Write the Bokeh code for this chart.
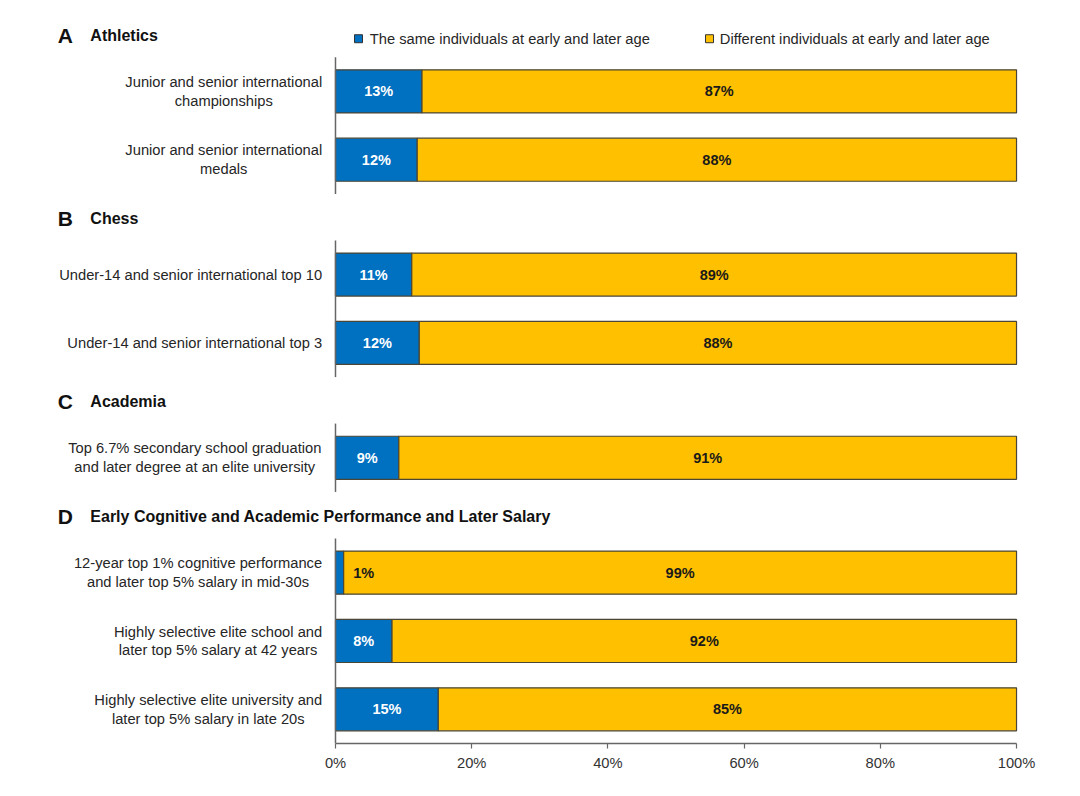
from bokeh.plotting import figure
from bokeh.models import Range1d, FixedTicker, ColumnDataSource
from bokeh.core.properties import value
from bokeh.embed import file_html
from bokeh.resources import INLINE

# ---------------- data ----------------
section_letters = ["A", "B", "C", "D"]
section_titles = ["Athletics", "Chess", "Academia",
                  "Early Cognitive and Academic Performance and Later Salary"]
section_sizes = [2, 2, 1, 3]
categories = [
    "Junior and senior international\nchampionships",
    "Junior and senior international\nmedals",
    "Under-14 and senior international top 10",
    "Under-14 and senior international top 3",
    "Top 6.7% secondary school graduation\nand later degree at an elite university",
    "12-year top 1% cognitive performance\nand later top 5% salary in mid-30s",
    "Highly selective elite school and\nlater top 5% salary at 42 years",
    "Highly selective elite university and\nlater top 5% salary in late 20s",
]
same_pct = [12.7, 12.0, 11.2, 12.3, 9.3, 1.2, 8.3, 15.1]
diff_pct = [87.3, 88.0, 88.8, 87.7, 90.7, 98.8, 91.7, 84.9]
same_labels = ["13%", "12%", "11%", "12%", "9%", "1%", "8%", "15%"]
diff_labels = ["87%", "88%", "89%", "88%", "91%", "99%", "92%", "85%"]
series_names = ["The same individuals at early and later age",
                "Different individuals at early and later age"]
tick_values = [0, 20, 40, 60, 80, 100]
tick_labels = ["0%", "20%", "40%", "60%", "80%", "100%"]

# ---------------- style ----------------
BLUE = "#0070C0"
YELLOW = "#FFC000"
OUTLINE = "#4a4535"
AXIS = "#666666"
FONT = "Liberation Sans"
FS_PX = 14.7
FS = f"{FS_PX}px"

# ---------------- geometry ----------------
W, H = 1064, 780
MB_L, MB_R, MB_T, MB_B = 13, 5, 18, 37
X0, X1 = -47.28, 106.31
PX_PER_UNIT = (W - MB_L - MB_R) / (X1 - X0)
LABEL_RIGHT = -1.95  # right edge of category-label block (data units)

# Arial / Liberation Sans advance widths (1/1000 em) for label centring
_AW = {" ": 278, "%": 889, "-": 333, ".": 278, "A": 667, "B": 667, "C": 722,
       "D": 722, "E": 667, "H": 722, "J": 500, "T": 611, "U": 722,
       "a": 556, "b": 556, "c": 500, "d": 556, "e": 556, "f": 278, "g": 556,
       "h": 556, "i": 222, "j": 222, "k": 500, "l": 222, "m": 833, "n": 556,
       "o": 556, "p": 556, "q": 556, "r": 333, "s": 500, "t": 278, "u": 556,
       "v": 500, "w": 722, "x": 500, "y": 500, "z": 500}


def text_width_units(s):
    w = max(sum(_AW.get(c, 556 if c.isdigit() else 556) for c in line)
            for line in s.split("\n"))
    return w / 1000 * FS_PX / PX_PER_UNIT


cat_x = [LABEL_RIGHT - text_width_units(c) / 2 for c in categories]

# ---------------- layout (slot units) ----------------
GAP = 0.68
starts, ends, centers = [], [], []
pos = 0.0
for n in section_sizes:
    starts.append(pos)
    for i in range(n):
        centers.append(pos + i + 0.5)
    ends.append(pos + n)
    pos += n + GAP
total = pos - GAP
header_y = [s - 0.32 for s in starts]

p = figure(width=W, height=H,
           x_range=Range1d(X0, X1),
           y_range=Range1d(total, -0.566),
           output_backend="svg", toolbar_location=None,
           min_border_left=MB_L, min_border_right=MB_R,
           min_border_top=MB_T, min_border_bottom=MB_B,
           y_axis_location=None)
p.grid.visible = False
p.outline_line_color = None
p.background_fill_color = "white"
p.border_fill_color = "white"

# stacked bars
src = ColumnDataSource(dict(
    y=centers, same=same_pct, diff=diff_pct, cat=categories, cx=cat_x,
    sl=same_labels, dl=diff_labels,
    bx=[v / 2 if v >= 3 else v + 1.4 for v in same_pct],
    ba=["center" if v >= 3 else "left" for v in same_pct],
    bc=["white" if v >= 3 else "#1a1a1a" for v in same_pct],
    dx=[s + d / 2 for s, d in zip(same_pct, diff_pct)],
))
p.hbar_stack(["same", "diff"], y="y", height=0.63, source=src,
             fill_color=[BLUE, YELLOW], line_color=OUTLINE, line_width=1.2)

# value labels
p.text(x="bx", y="y", text="sl", source=src, text_align="ba",
       text_baseline="middle", text_color="bc",
       text_font=value(FONT), text_font_style="bold", text_font_size="14.5px")
p.text(x="dx", y="y", text="dl", source=src, text_align="center",
       text_baseline="middle", text_color="#1a1a1a",
       text_font=value(FONT), text_font_style="bold", text_font_size="14.5px")

# category labels (block right-aligned, lines centred)
p.text(x="cx", y="y", text="cat", source=src, text_align="center",
       text_baseline="middle", text_color="#262626", text_line_height=1.18,
       text_font=value(FONT), text_font_size=FS)

# left axis segments per section
p.segment(x0=0, y0=starts, x1=0, y1=ends, line_color=AXIS, line_width=1.5)

# section headers
p.text(x=-40.8, y=header_y, text=section_letters, text_align="left",
       text_baseline="middle", text_color="#111111",
       text_font=value(FONT), text_font_style="bold", text_font_size="21px")
p.text(x=-36.0, y=header_y, text=section_titles, text_align="left",
       text_baseline="middle", text_color="#111111",
       text_font=value(FONT), text_font_style="bold", text_font_size="16px")

# legend
p.scatter(x=[3.38, 54.92], y=[-0.27, -0.27], marker="square", size=8,
          fill_color=[BLUE, YELLOW], line_color="#333333", line_width=1)
p.text(x=[5.04, 56.43], y=[-0.27, -0.27], text=series_names,
       text_align="left", text_baseline="middle", text_color="#262626",
       text_font=value(FONT), text_font_size=FS)

# bottom axis
ax = p.xaxis[0]
ax.bounds = (0, 100)
ax.ticker = FixedTicker(ticks=tick_values)
ax.major_label_overrides = {v: l for v, l in zip(tick_values, tick_labels)}
ax.minor_tick_line_color = None
ax.major_tick_in = 0
ax.major_tick_out = 5
ax.axis_line_color = AXIS
ax.axis_line_width = 1.5
ax.major_tick_line_color = AXIS
ax.major_tick_line_width = 1.2
ax.major_label_text_font = FONT
ax.major_label_text_font_size = FS
ax.major_label_text_color = "#333333"
ax.major_label_standoff = 6

open("out.html", "w").write(file_html(p, INLINE))
